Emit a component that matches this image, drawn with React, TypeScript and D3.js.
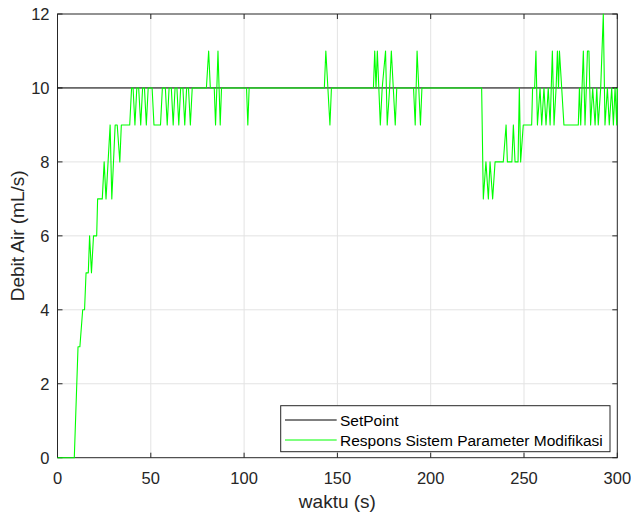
import React from "react";
import * as d3 from "d3";

// setpoint (constant)
const setpointTime = [0, 300];
const setpointValue = [10, 10];

// response of the modified-parameter system
const respTime = [
  0, 9, 11, 12, 13.5, 14.5, 15.3, 16.5, 17.2, 18.2, 19.3, 21, 21.5, 24, 25, 26, 28.2, 29.1, 30.9, 32, 33.4, 34.2, 38.7,
  39.7, 40.5, 41.5, 42.5, 43.5, 44.6, 45.6, 46.6, 47.6, 48.6, 50.7, 51.7, 55.2, 56.2, 57.8, 58.8, 59.8, 61, 62, 63, 64,
  65, 66, 67.2, 68.2, 69.2, 70.2, 71.2, 72.2,
  79.8, 81, 81.9, 84, 84.7, 85.4, 86, 86.6, 87.2, 87.9,
  101.3, 102, 102.7,
  143, 143.8, 146, 146.8,
  169.3, 170, 170.7, 171.4, 172.2, 173, 174, 175.8, 176.7, 178, 178.9, 181, 181.8,
  190.8, 191.7, 192.7, 194.5, 195.3,
  227.3, 228.2, 229.6, 230.9, 231.8, 233.2, 234.5, 238.9, 240.4, 241.1, 243.5, 244.3, 245.2, 246.8, 247.5, 248.2, 249.6,
  254.1, 254.6, 255.7, 256.4, 257.2, 258.6, 259.5, 260.7, 261.8, 263, 264, 265.2, 266.1, 267.2, 267.9, 268.5, 269, 270.2,
  271.4, 279.1, 279.7, 280.4, 281.8, 282.7, 283.4, 284, 284.8, 285.7, 286.8, 288.1, 289, 289.8, 291.1, 292.5, 293.4,
  294.7, 295.7, 297, 297.9, 298.8, 299.7, 300,
];
const respValue = [
  0, 0, 3, 3, 4, 4, 5, 5, 6, 5, 6, 6, 7, 7, 8, 7, 9, 7, 9, 9, 8, 9, 9,
  10, 10, 9, 10, 10, 9, 10, 10, 9, 10, 10, 9, 9, 10, 10, 9, 10, 10, 9, 10, 10,
  9, 10, 10, 9, 10, 10, 9, 10,
  10, 11, 10, 10, 9, 10, 11, 10, 9, 10,
  10, 9, 10,
  10, 11, 9, 10,
  10, 11, 10, 11, 10, 9, 10, 11, 9, 10, 11, 9, 10,
  10, 9, 11, 9, 10,
  10, 7, 8, 7, 8, 7, 8, 8, 9, 8, 8, 9, 8, 8, 10, 8, 9,
  9, 10, 10, 11, 9, 10, 9, 10, 9, 10, 9, 11, 9, 10, 11, 10, 11, 10,
  9, 9, 10, 9, 11, 9, 10, 11, 11, 9, 10, 9, 10, 9, 10, 12, 9,
  10, 9, 10, 9, 10, 9, 10,
];

const xTicks = [0, 50, 100, 150, 200, 250, 300];
const yTicks = [0, 2, 4, 6, 8, 10, 12];

const W = 631;
const H = 515;
const left = 57.5;
const right = 617.3;
const top = 14;
const bottom = 457.7;
const axisColor = "#262626";
const font = "'Liberation Sans', Arial, Helvetica, sans-serif";

export default function App() {
  const x = d3.scaleLinear().domain([0, 300]).range([left, right]);
  const y = d3.scaleLinear().domain([0, 12]).range([bottom, top]);

  const line = d3
    .line<[number, number]>()
    .x((d) => x(d[0]))
    .y((d) => y(d[1]));

  const spPts = setpointTime.map((t, i) => [t, setpointValue[i]] as [number, number]);
  const respPts = respTime.map((t, i) => [t, respValue[i]] as [number, number]);

  return (
    <svg
      width={W}
      height={H}
      style={{ position: "absolute", left: 0, top: 0, background: "#fff" }}
      fontFamily={font}
    >
      <rect x={0} y={0} width={W} height={H} fill="#fff" />

      {/* grid */}
      {xTicks.slice(1, -1).map((t) => (
        <line key={"gx" + t} x1={x(t)} x2={x(t)} y1={top} y2={bottom} stroke="#e3e3e3" strokeWidth={1} />
      ))}
      {yTicks.slice(1, -1).map((t) => (
        <line key={"gy" + t} x1={left} x2={right} y1={y(t)} y2={y(t)} stroke="#e3e3e3" strokeWidth={1} />
      ))}

      {/* box + ticks */}
      <rect x={left} y={top} width={right - left} height={bottom - top} fill="none" stroke={axisColor} strokeWidth={1} />
      {xTicks.map((t) => (
        <g key={"tx" + t}>
          <line x1={x(t)} x2={x(t)} y1={bottom} y2={bottom - 5} stroke={axisColor} />
          <line x1={x(t)} x2={x(t)} y1={top} y2={top + 5} stroke={axisColor} />
          <text x={x(t)} y={bottom + 26} textAnchor="middle" fontSize={16.5} fill={axisColor}>
            {t}
          </text>
        </g>
      ))}
      {yTicks.map((t) => (
        <g key={"ty" + t}>
          <line x1={left} x2={left + 5} y1={y(t)} y2={y(t)} stroke={axisColor} />
          <line x1={right} x2={right - 5} y1={y(t)} y2={y(t)} stroke={axisColor} />
          <text x={left - 8} y={y(t)} dy="0.36em" textAnchor="end" fontSize={16.5} fill={axisColor}>
            {t}
          </text>
        </g>
      ))}

      {/* series */}
      <path d={line(spPts) || ""} fill="none" stroke="#000" strokeWidth={1} />
      <path d={line(respPts) || ""} fill="none" stroke="#00ff00" strokeWidth={1.1} strokeLinejoin="round" />

      {/* axis labels */}
      <text x={(left + right) / 2} y={508} textAnchor="middle" fontSize={19} fill={axisColor}>
        waktu (s)
      </text>
      <text
        transform={`translate(24,${(top + bottom) / 2}) rotate(-90)`}
        textAnchor="middle"
        fontSize={19}
        fill={axisColor}
      >
        Debit Air (mL/s)
      </text>

      {/* legend */}
      <rect x={280.7} y={405.7} width={329.3} height={46} fill="#fff" stroke={axisColor} strokeWidth={1} />
      <line x1={285} x2={336.7} y1={420} y2={420} stroke="#000" strokeWidth={1} />
      <line x1={285} x2={336.7} y1={440} y2={440} stroke="#00ff00" strokeWidth={1} />
      <text x={340} y={420} dy="0.36em" fontSize={15.5} fill="#000">
        SetPoint
      </text>
      <text x={340} y={440} dy="0.36em" fontSize={15.5} fill="#000">
        Respons Sistem Parameter Modifikasi
      </text>
    </svg>
  );
}
